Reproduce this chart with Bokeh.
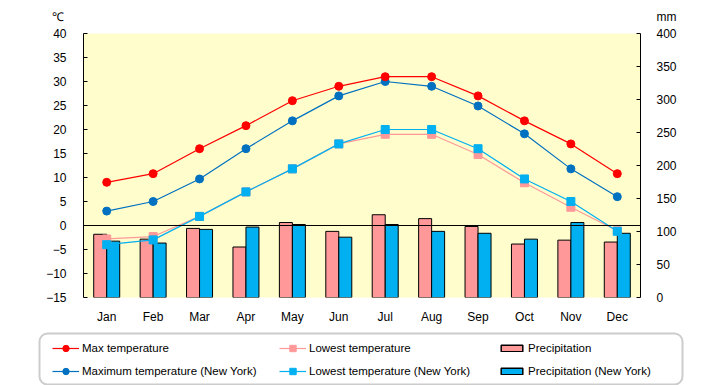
from bokeh.plotting import figure
from bokeh.layouts import column
from bokeh.models import (Range1d, LinearAxis, SingleIntervalTicker, Span, Legend,
                          LegendItem, Label, BoxAnnotation, FactorRange, ColumnDataSource)
from bokeh.transform import dodge
from bokeh.embed import file_html
from bokeh.resources import INLINE

months = ["Jan", "Feb", "Mar", "Apr", "May", "Jun", "Jul", "Aug", "Sep", "Oct", "Nov", "Dec"]
max_temp = [9.0, 10.8, 16.0, 20.8, 26.0, 29.0, 31.0, 31.0, 27.0, 21.8, 17.0, 10.8]
low_temp = [-2.8, -2.3, 1.9, 7.0, 11.8, 17.0, 19.0, 19.0, 14.8, 8.9, 3.8, -1.1]
max_temp_ny = [3.0, 5.0, 9.7, 16.0, 21.8, 27.0, 30.0, 29.0, 24.9, 19.1, 11.8, 6.0]
low_temp_ny = [-4.0, -3.0, 1.9, 7.0, 11.8, 17.0, 20.0, 20.0, 16.0, 9.7, 5.0, -1.2]
precip = [95.8, 88.4, 104.7, 76.5, 113.6, 100.2, 125.4, 119.5, 107.6, 81.0, 86.9, 84.0]
precip_ny = [85.4, 82.5, 103.2, 106.7, 110.6, 91.4, 110.6, 100.2, 97.3, 88.4, 113.6, 97.3]
unit_left, unit_right = "℃", "mm"

FONT = "Liberation Sans"
C_MAX, C_MAXNY, C_LOW, C_LOWNY = "#FF0000", "#0070C0", "#FF9999", "#00B0F0"
data = dict(month=months, max_temp=max_temp, low_temp=low_temp, max_temp_ny=max_temp_ny,
            low_temp_ny=low_temp_ny, precip=precip, precip_ny=precip_ny)
src = ColumnDataSource(data)


def no_align(fig):
    if "frame_align" in fig.properties():
        fig.frame_align = False


# ---------- header with unit labels ----------
hdr = figure(width=720, height=23, x_range=Range1d(0, 1), y_range=Range1d(0, 1),
             x_axis_type=None, y_axis_type=None, output_backend="svg", toolbar_location=None,
             min_border=0)
no_align(hdr)
hdr.outline_line_color = None
hdr.grid.visible = False
for txt, xs in ((unit_left, 57), (unit_right, 666)):
    hdr.add_layout(Label(x=xs, y=7, x_units="screen", y_units="screen", text=txt,
                         text_align="center", text_baseline="middle", text_font=FONT,
                         text_font_size="12px", text_color="black"))

# ---------- main chart ----------
p = figure(width=720, height=303, x_range=FactorRange(factors=months), y_range=Range1d(-15, 40),
           output_backend="svg", toolbar_location=None,
           min_border_left=83, min_border_right=80, min_border_top=10, min_border_bottom=23)
no_align(p)
p.background_fill_color = "#FFFDCC"
p.border_fill_color = "white"
p.outline_line_color = None
p.xgrid.visible = False
p.ygrid.visible = False
p.extra_y_ranges = {"mm": Range1d(0, 400)}

bar_kw = dict(bottom=0, width=0.28, source=src, y_range_name="mm", line_color="black", line_width=1)
p.vbar(x=dodge("month", -0.14, range=p.x_range), top="precip", fill_color=C_LOW, **bar_kw)
p.vbar(x=dodge("month", 0.14, range=p.x_range), top="precip_ny", fill_color=C_LOWNY, **bar_kw)

p.add_layout(Span(location=0, dimension="width", line_color="black", line_width=1.2))

series = (("low_temp", C_LOW, "square"), ("low_temp_ny", C_LOWNY, "square"),
          ("max_temp_ny", C_MAXNY, "circle"), ("max_temp", C_MAX, "circle"))
for col, color, marker in series:
    p.line("month", col, source=src, line_color=color, line_width=1.2)
    p.scatter("month", col, source=src, marker=marker, size=8, fill_color=color, line_color=color)


def style_axis(ax, standoff):
    ax.minor_tick_line_color = None
    ax.major_tick_in = 4
    ax.major_tick_out = 0
    ax.major_label_standoff = standoff
    ax.axis_line_color = "black"
    ax.major_tick_line_color = "black"
    ax.major_label_text_font = FONT
    ax.major_label_text_font_size = "12px"
    ax.major_label_text_color = "black"


yl = p.yaxis[0]
yl.ticker = SingleIntervalTicker(interval=5)
style_axis(yl, 13)

yr = LinearAxis(y_range_name="mm", ticker=SingleIntervalTicker(interval=50))
style_axis(yr, 12)
p.add_layout(yr, "right")

xa = p.xaxis[0]
xa.axis_line_color = None
xa.major_tick_line_color = None
xa.minor_tick_line_color = None
xa.major_label_standoff = 6
xa.major_label_text_font = FONT
xa.major_label_text_font_size = "12px"
xa.major_label_text_color = "black"

# ---------- legend strip: the series again on a numeric range (categories map to nothing),
# so only their legend glyphs are visible ----------
lg = figure(width=720, height=59, x_range=Range1d(0, 1), y_range=Range1d(-1000, -999),
            x_axis_type=None, y_axis_type=None, output_backend="svg", toolbar_location=None,
            min_border=0)
no_align(lg)
lg.outline_line_color = None
lg.grid.visible = False

lrend = {}
for col, color, marker in series:
    ln = lg.line("month", col, source=src, line_color=color, line_width=1.2)
    mk = lg.scatter("month", col, source=src, marker=marker, size=8,
                    fill_color=color, line_color=color)
    lrend[col] = [ln, mk]
lb_pr = lg.vbar(x="month", top="precip", bottom=0, width=0.28, source=src,
                fill_color=C_LOW, line_color="black", line_width=1.5)
lb_prny = lg.vbar(x="month", top="precip_ny", bottom=0, width=0.28, source=src,
                  fill_color=C_LOWNY, line_color="black", line_width=1.5)

box_kw = dict(left=39, right=682, top=52, bottom=1, left_units="screen", right_units="screen",
              top_units="screen", bottom_units="screen", fill_alpha=0, fill_color=None,
              line_color="#CCCCCC", line_width=2, line_alpha=1)
if "border_radius" in BoxAnnotation.properties():
    box_kw["border_radius"] = 8
lg.add_layout(BoxAnnotation(**box_kw))


def make_legend(items, vx, gh):
    leg = Legend(items=items, location=(vx, 6), orientation="vertical",
                 glyph_width=27, glyph_height=gh, label_height=16, label_standoff=3,
                 spacing=7, padding=0, margin=0, border_line_color=None,
                 background_fill_alpha=0, label_text_font=FONT, label_text_font_size="11.5px",
                 label_text_color="black")
    lg.add_layout(leg, "center")


make_legend([LegendItem(label="Max temperature", renderers=lrend["max_temp"]),
             LegendItem(label="Maximum temperature (New York)", renderers=lrend["max_temp_ny"])], 52, 16)
make_legend([LegendItem(label="Lowest temperature", renderers=lrend["low_temp"]),
             LegendItem(label="Lowest temperature (New York)", renderers=lrend["low_temp_ny"])], 279, 16)
make_legend([LegendItem(label="Precipitation", renderers=[lb_pr]),
             LegendItem(label="Precipitation (New York)", renderers=[lb_prny])], 498, 8)

layout = column(hdr, p, lg, spacing=0)
open("out.html", "w").write(file_html(layout, INLINE))
